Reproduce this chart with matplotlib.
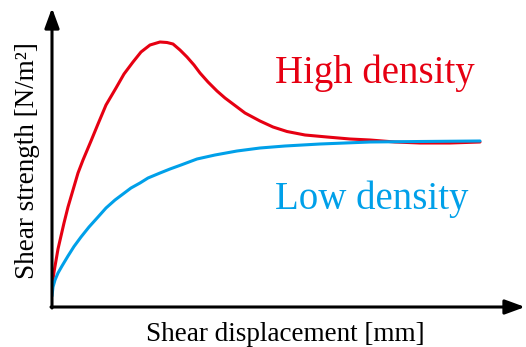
import matplotlib.pyplot as plt

plt.rcParams["font.family"] = ["Liberation Serif", "DejaVu Serif"]

# curves (arbitrary units, origin at the axes corner)
high_x = [0, 2, 6, 12, 16, 21, 26, 31, 39, 46, 54, 64, 72, 81, 89, 98, 108,
          115, 121, 128, 135, 142, 148, 156, 165, 173, 181, 193, 208, 221, 235,
          253, 275, 298, 318, 343, 368, 398, 428]
high_y = [20, 35, 58, 84, 100, 117, 134, 147, 166, 183, 202, 219, 233, 245,
          255, 262, 265, 264.5, 263, 257, 250, 242, 234, 225, 216, 209, 203,
          194, 186, 180, 175.5, 172, 170, 168, 167, 165, 164, 164, 165]

low_x = [0, 1, 3, 6, 10, 16, 22, 29, 37, 46, 54, 63, 71, 79, 88, 96, 108, 118,
         129, 145, 163, 185, 208, 233, 268, 318, 368, 428]
low_y = [11, 20, 27, 34, 41, 51, 60.5, 70, 80, 90, 99, 107, 113, 119, 124, 129,
         134, 138, 142, 148, 152, 156, 159, 161, 163, 165, 165.5, 166]

labels = ["High density", "Low density"]
x_label = "Shear displacement [mm]"
y_label = "Shear strength [N/m²]"

red = "#e60012"
blue = "#00a0e9"

fig = plt.figure(figsize=(5.26, 3.47), dpi=100)
ax = fig.add_axes([52 / 526, 40 / 347, 473 / 526, 299 / 347])

ax.plot(high_x, high_y, color=red, lw=2.2,
        solid_capstyle="round", solid_joinstyle="round")
ax.plot(low_x, low_y, color=blue, lw=2.2,
        solid_capstyle="round", solid_joinstyle="round")

ax.set_xlim(0, 473)
ax.set_ylim(0, 299)
ax.axis("off")

# axes drawn as arrows
arrow = dict(arrowstyle="-|>,head_length=0.6,head_width=0.22",
             lw=2.2, color="black", shrinkA=0, shrinkB=0,
             mutation_scale=20)
ax.annotate("", xy=(0, 299), xytext=(0, -1),
            arrowprops=arrow, annotation_clip=False)
ax.annotate("", xy=(473, 0), xytext=(-1, 0),
            arrowprops=arrow, annotation_clip=False)

ax.text(223, 224, labels[0], color=red, fontsize=28,
        ha="left", va="baseline")
ax.text(223, 98, labels[1], color=blue, fontsize=28,
        ha="left", va="baseline")

ax.text(233, -34, x_label, fontsize=19.5, ha="center", va="baseline")
ax.text(-18, 146, y_label, fontsize=19.5, rotation=90,
        rotation_mode="anchor", ha="center", va="baseline")

plt.savefig("out.png", dpi=100, facecolor="white")
plt.close()
